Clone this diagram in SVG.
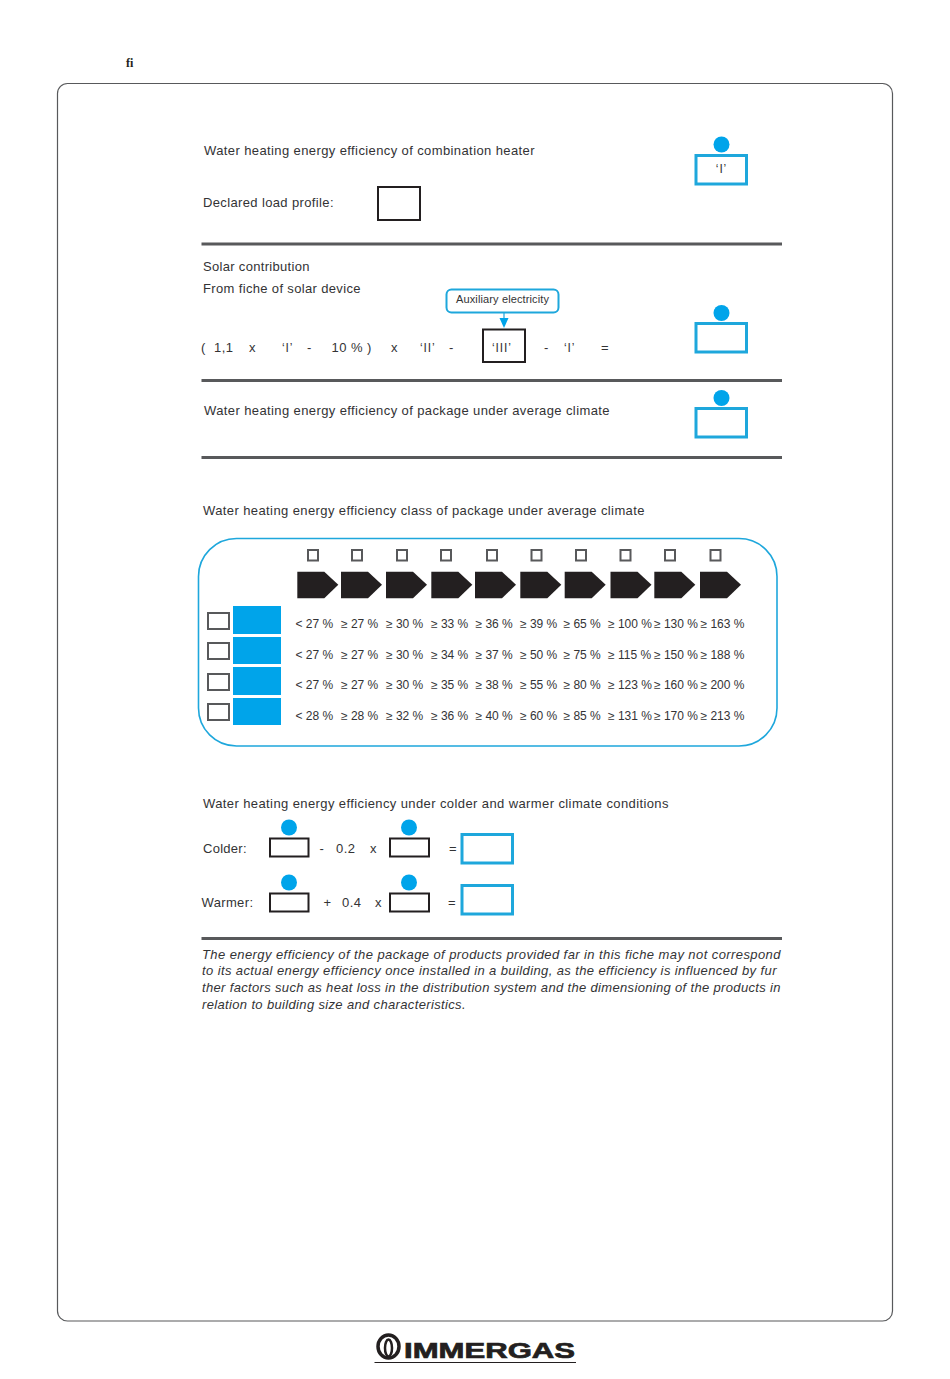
<svg xmlns="http://www.w3.org/2000/svg" width="950" height="1379" viewBox="0 0 950 1379">
<style>
text{font-family:"Liberation Sans",Arial,sans-serif;fill:#333335}
.m{font-size:13px;letter-spacing:.5px}
.t{font-size:12px}
.s{font-size:12px;letter-spacing:.9px}
.it{font-size:13px;font-style:italic;letter-spacing:.5px}
.rule{stroke:#58595b;stroke-width:3;fill:none}
.blue{fill:#fff;stroke:#1ea7dc;stroke-width:3}
.blk{fill:#fff;stroke:#231f20;stroke-width:2}
.dot{fill:#00a4ea}
.chk{fill:#fff;stroke:#58595b;stroke-width:2}
.band{fill:#00a4ea}
</style>
<defs>
<path id="arr" d="M0 0H27L41 13L27 26.500H0Z" fill="#231f20"/>
</defs>
<rect width="950" height="1379" fill="#fff"/>
<text x="126" y="67" style="font-family:'Liberation Serif',serif;font-weight:bold;font-size:12px;fill:#231f20">fi</text>
<rect id="frame" x="57.500" y="83.500" width="835" height="1237.500" rx="10" fill="none" stroke="#58595b" stroke-width="1.200"/>

<g id="section-1">
<text class="m" x="204" y="155" textLength="331">Water heating energy efficiency of combination heater</text>
<circle class="dot" cx="721.500" cy="144.500" r="8"/>
<rect class="blue" x="696" y="155.500" width="50.500" height="28.500"/>
<text class="s" x="721.500" y="172.500" text-anchor="middle">‘I’</text>
<text class="m" x="203" y="207" textLength="131">Declared load profile:</text>
<rect class="blk" x="378" y="187" width="42" height="33"/>
<line class="rule" x1="201.500" y1="244" x2="782" y2="244"/>
</g>

<g id="section-2">
<text class="m" x="203" y="271" textLength="107">Solar contribution</text>
<text class="m" x="203" y="293" textLength="158">From fiche of solar device</text>
<g id="aux-callout">
<rect x="446.500" y="289.500" width="112" height="23" rx="5" fill="#fff" stroke="#1ea7dc" stroke-width="2"/>
<text x="456" y="303" style="font-size:11px" textLength="93">Auxiliary electricity</text>
</g>
<g id="connectors">
<line x1="504" y1="313" x2="504" y2="320" stroke="#1ea7dc" stroke-width="1.200"/>
<path d="M499.500 318H508.500L504 328Z" fill="#00a4ea"/>
</g>
<rect class="blk" x="483" y="329.500" width="42" height="32.500"/>
<text class="m" x="201" y="352">(</text>
<text class="m" x="214" y="352">1,1</text>
<text class="m" x="249" y="352">x</text>
<text class="s" x="282" y="352">‘I’</text>
<text class="m" x="307" y="352">-</text>
<text class="m" x="331.500" y="352">10 %</text>
<text class="m" x="367" y="352">)</text>
<text class="m" x="391" y="352">x</text>
<text class="s" x="420" y="352">‘II’</text>
<text class="m" x="449" y="352">-</text>
<text class="s" x="492" y="352">‘III’</text>
<text class="m" x="544" y="352">-</text>
<text class="s" x="564" y="352">‘I’</text>
<text class="m" x="601" y="352">=</text>
<circle class="dot" cx="721.500" cy="313" r="8"/>
<rect class="blue" x="696" y="323.500" width="50.500" height="28.500"/>
<line class="rule" x1="201.500" y1="380.500" x2="782" y2="380.500"/>
</g>

<g id="section-3">
<text class="m" x="204" y="415" textLength="406">Water heating energy efficiency of package under average climate</text>
<circle class="dot" cx="721.500" cy="398" r="8"/>
<rect class="blue" x="696" y="408.500" width="50.500" height="28.500"/>
<line class="rule" x1="201.500" y1="457.500" x2="782" y2="457.500"/>
</g>

<text class="m" x="203" y="515" textLength="442">Water heating energy efficiency class of package under average climate</text>

<g id="class-table">
<rect x="198.500" y="538.500" width="578.500" height="207.500" rx="38" fill="#fff" stroke="#1ea7dc" stroke-width="1.600"/>
<g id="class-checks">
<rect class="chk" x="308" y="550" width="10" height="10.500"/>
<rect class="chk" x="352" y="550" width="10" height="10.500"/>
<rect class="chk" x="397" y="550" width="10" height="10.500"/>
<rect class="chk" x="441" y="550" width="10" height="10.500"/>
<rect class="chk" x="487" y="550" width="10" height="10.500"/>
<rect class="chk" x="531.500" y="550" width="10" height="10.500"/>
<rect class="chk" x="576" y="550" width="10" height="10.500"/>
<rect class="chk" x="620.500" y="550" width="10" height="10.500"/>
<rect class="chk" x="665" y="550" width="10" height="10.500"/>
<rect class="chk" x="710.500" y="550" width="10" height="10.500"/>
</g>
<g id="class-arrows">
<use href="#arr" x="297.300" y="571.700"/>
<use href="#arr" x="341" y="571.700"/>
<use href="#arr" x="386" y="571.700"/>
<use href="#arr" x="431.300" y="571.700"/>
<use href="#arr" x="475" y="571.700"/>
<use href="#arr" x="520.300" y="571.700"/>
<use href="#arr" x="564.700" y="571.700"/>
<use href="#arr" x="610.500" y="571.700"/>
<use href="#arr" x="654.300" y="571.700"/>
<use href="#arr" x="700" y="571.700"/>
</g>
<g id="profile-rows">
<rect class="chk" x="208" y="613" width="21" height="16"/>
<rect class="band" x="233" y="606" width="48" height="28"/>
<rect class="chk" x="208" y="643" width="21" height="16"/>
<rect class="band" x="233" y="637" width="48" height="27"/>
<rect class="chk" x="208" y="674" width="21" height="16"/>
<rect class="band" x="233" y="667" width="48" height="28"/>
<rect class="chk" x="208" y="704" width="21" height="16"/>
<rect class="band" x="233" y="698" width="48" height="27"/>
</g>
<g id="row-1">
<text class="t" x="295.500" y="628">&lt; 27 %</text><text class="t" x="341" y="628">≥ 27 %</text><text class="t" x="386" y="628">≥ 30 %</text><text class="t" x="431" y="628">≥ 33 %</text><text class="t" x="475.500" y="628">≥ 36 %</text><text class="t" x="520" y="628">≥ 39 %</text><text class="t" x="563.500" y="628">≥ 65 %</text><text class="t" x="608" y="628">≥ 100 %</text><text class="t" x="654" y="628">≥ 130 %</text><text class="t" x="700.500" y="628">≥ 163 %</text>
</g>
<g id="row-2">
<text class="t" x="295.500" y="659">&lt; 27 %</text><text class="t" x="341" y="659">≥ 27 %</text><text class="t" x="386" y="659">≥ 30 %</text><text class="t" x="431" y="659">≥ 34 %</text><text class="t" x="475.500" y="659">≥ 37 %</text><text class="t" x="520" y="659">≥ 50 %</text><text class="t" x="563.500" y="659">≥ 75 %</text><text class="t" x="608" y="659">≥ 115 %</text><text class="t" x="654" y="659">≥ 150 %</text><text class="t" x="700.500" y="659">≥ 188 %</text>
</g>
<g id="row-3">
<text class="t" x="295.500" y="689">&lt; 27 %</text><text class="t" x="341" y="689">≥ 27 %</text><text class="t" x="386" y="689">≥ 30 %</text><text class="t" x="431" y="689">≥ 35 %</text><text class="t" x="475.500" y="689">≥ 38 %</text><text class="t" x="520" y="689">≥ 55 %</text><text class="t" x="563.500" y="689">≥ 80 %</text><text class="t" x="608" y="689">≥ 123 %</text><text class="t" x="654" y="689">≥ 160 %</text><text class="t" x="700.500" y="689">≥ 200 %</text>
</g>
<g id="row-4">
<text class="t" x="295.500" y="720">&lt; 28 %</text><text class="t" x="341" y="720">≥ 28 %</text><text class="t" x="386" y="720">≥ 32 %</text><text class="t" x="431" y="720">≥ 36 %</text><text class="t" x="475.500" y="720">≥ 40 %</text><text class="t" x="520" y="720">≥ 60 %</text><text class="t" x="563.500" y="720">≥ 85 %</text><text class="t" x="608" y="720">≥ 131 %</text><text class="t" x="654" y="720">≥ 170 %</text><text class="t" x="700.500" y="720">≥ 213 %</text>
</g>
</g>

<g id="climate">
<text class="m" x="203" y="808" textLength="466">Water heating energy efficiency under colder and warmer climate conditions</text>
<text class="m" x="203" y="853" textLength="44">Colder:</text>
<circle class="dot" cx="289" cy="827.500" r="8"/>
<rect class="blk" x="270" y="838.500" width="38.500" height="18"/>
<text class="m" x="319.500" y="853">-</text>
<text class="m" x="336" y="853">0.2</text>
<text class="m" x="370" y="853">x</text>
<circle class="dot" cx="409" cy="827.500" r="8"/>
<rect class="blk" x="390" y="838.500" width="39" height="18"/>
<text class="m" x="449" y="853">=</text>
<rect class="blue" x="462" y="834.500" width="50.500" height="28.500"/>
<text class="m" x="201.500" y="907" textLength="52">Warmer:</text>
<circle class="dot" cx="289" cy="882.500" r="8"/>
<rect class="blk" x="270" y="893.500" width="38.500" height="18"/>
<text class="m" x="323.500" y="907">+</text>
<text class="m" x="342" y="907">0.4</text>
<text class="m" x="375" y="907">x</text>
<circle class="dot" cx="409" cy="882.500" r="8"/>
<rect class="blk" x="390" y="893.500" width="39" height="18"/>
<text class="m" x="448" y="907">=</text>
<rect class="blue" x="462" y="885.500" width="50.500" height="28.500"/>
<line class="rule" x1="201.500" y1="938.500" x2="782" y2="938.500"/>
</g>

<g id="disclaimer">
<text class="it" x="202" y="959" textLength="579">The energy efficiency of the package of products provided far in this fiche may not correspond</text>
<text class="it" x="202" y="975" textLength="575">to its actual energy efficiency once installed in a building, as the efficiency is influenced by fur</text>
<text class="it" x="202" y="992" textLength="579">ther factors such as heat loss in the distribution system and the dimensioning of the products in</text>
<text class="it" x="202" y="1009" textLength="264">relation to building size and characteristics.</text>
</g>

<g id="logo">
<ellipse cx="388.500" cy="1346.500" rx="10.500" ry="11.500" fill="none" stroke="#231f20" stroke-width="3.500"/>
<ellipse cx="388.500" cy="1348" rx="3.500" ry="8.500" fill="none" stroke="#231f20" stroke-width="2.500"/>
<text x="404" y="1357.500" style="font-size:22px;font-weight:bold;stroke:#231f20;stroke-width:.7px;fill:#231f20" textLength="171" lengthAdjust="spacingAndGlyphs">IMMERGAS</text>
<line x1="374.500" y1="1362.500" x2="576" y2="1362.500" stroke="#231f20" stroke-width="1"/>
</g>
</svg>
